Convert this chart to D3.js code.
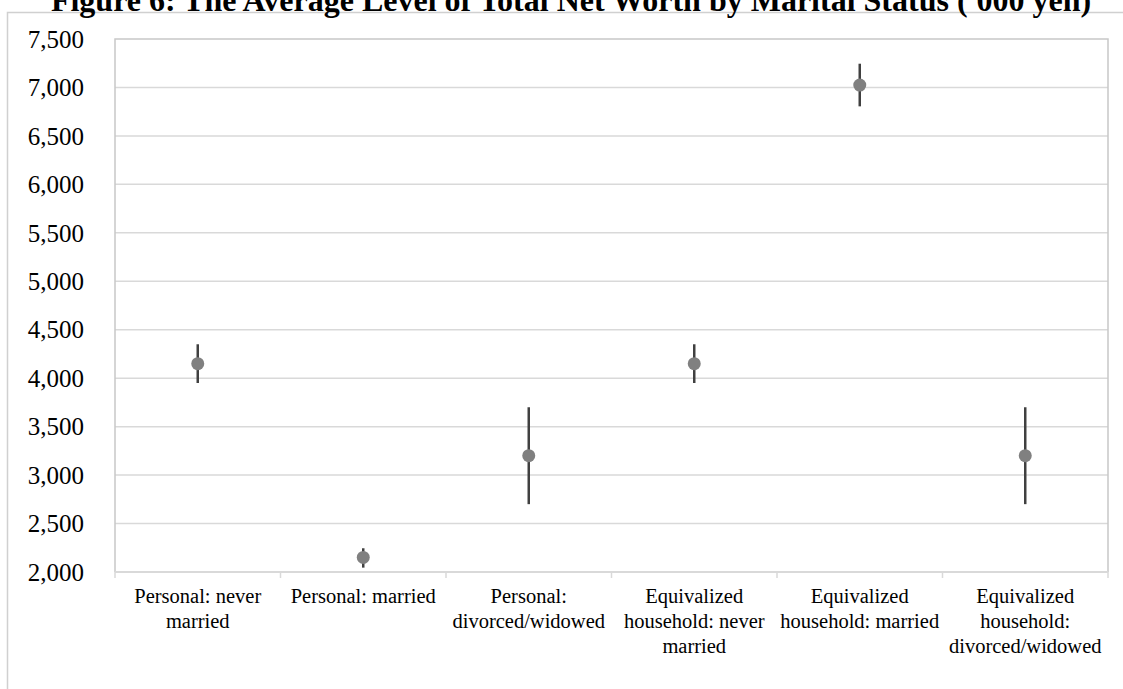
<!DOCTYPE html>
<html>
<head>
<meta charset="utf-8">
<script src="https://cdn.jsdelivr.net/npm/d3@7"></script>
<style>
  html, body { margin: 0; padding: 0; background: #fff; }
  svg { display: block; }
</style>
</head>
<body>
<svg id="chart" width="1123" height="689"></svg>
<script>
// ---- Data ----
const categories = [
  "Personal: never married",
  "Personal: married",
  "Personal: divorced/widowed",
  "Equivalized household: never married",
  "Equivalized household: married",
  "Equivalized household: divorced/widowed"
];
const labelLines = [
  ["Personal: never", "married"],
  ["Personal: married"],
  ["Personal:", "divorced/widowed"],
  ["Equivalized", "household: never", "married"],
  ["Equivalized", "household: married"],
  ["Equivalized", "household:", "divorced/widowed"]
];
const means = [4150, 2150, 3200, 4150, 7025, 3200];
const lowers = [3950, 2045, 2700, 3950, 6805, 2700];
const uppers = [4350, 2245, 3700, 4350, 7245, 3700];
const yTicks = [2000, 2500, 3000, 3500, 4000, 4500, 5000, 5500, 6000, 6500, 7000, 7500];
const title = "Figure 6: The Average Level of Total Net Worth by Marital Status ('000 yen)";

// ---- Layout ----
const svg = d3.select("#chart");
const plot = { left: 115, right: 1108, top: 39, bottom: 572 };
const serif = "'Liberation Serif', 'Times New Roman', serif";

// outer frame
svg.append("rect")
  .attr("x", 7.5).attr("y", 12.5)
  .attr("width", 1140).attr("height", 700)
  .attr("fill", "none").attr("stroke", "#d0d0d0").attr("stroke-width", 1.5);

// title (partially cut off at top as in reference)
svg.append("text")
  .attr("x", 571).attr("y", 11)
  .attr("text-anchor", "middle")
  .attr("font-family", serif).attr("font-weight", "bold")
  .attr("font-size", 32)
  .text(title);

const x = d3.scaleBand().domain(categories).range([plot.left, plot.right]).padding(0);
const y = d3.scaleLinear().domain([2000, 7500]).range([plot.bottom, plot.top]);

// gridlines
svg.append("g").selectAll("line").data(yTicks.filter(d => d > 2000 && d < 7500)).join("line")
  .attr("x1", plot.left).attr("x2", plot.right)
  .attr("y1", d => y(d)).attr("y2", d => y(d))
  .attr("stroke", "#d9d9d9").attr("stroke-width", 1.5);

// plot border (top/left/right)
svg.append("path")
  .attr("d", `M${plot.left},${plot.bottom} V${plot.top} H${plot.right} V${plot.bottom}`)
  .attr("fill", "none").attr("stroke", "#c8c8c8").attr("stroke-width", 1.5);

// x axis
const xAxisG = svg.append("g").attr("transform", `translate(0,${plot.bottom})`);
xAxisG.append("line")
  .attr("x1", plot.left).attr("x2", plot.right)
  .attr("stroke", "#d9d9d9").attr("stroke-width", 2);
const boundaries = categories.map(c => x(c)).concat([x(categories[categories.length - 1]) + x.bandwidth()]);
xAxisG.selectAll("line.tick").data(boundaries).join("line")
  .attr("class", "tick")
  .attr("x1", d => d).attr("x2", d => d)
  .attr("y1", 0).attr("y2", 6)
  .attr("stroke", "#d9d9d9").attr("stroke-width", 1.5);

// x labels
const xl = svg.append("g");
categories.forEach((c, i) => {
  const t = xl.append("text")
    .attr("text-anchor", "middle")
    .attr("font-family", serif).attr("font-size", 20.5)
    .attr("fill", "#000");
  labelLines[i].forEach((ln, j) => {
    t.append("tspan")
      .attr("x", x(c) + x.bandwidth() / 2)
      .attr("y", 603 + j * 25)
      .text(ln);
  });
});

// y labels
svg.append("g").selectAll("text").data(yTicks).join("text")
  .attr("x", 84).attr("y", d => y(d))
  .attr("dy", "0.35em")
  .attr("text-anchor", "end")
  .attr("font-family", serif).attr("font-size", 25)
  .attr("fill", "#000")
  .text(d => d3.format(",")(d));

// error bars
svg.append("g").selectAll("line").data(categories).join("line")
  .attr("x1", (c) => x(c) + x.bandwidth() / 2)
  .attr("x2", (c) => x(c) + x.bandwidth() / 2)
  .attr("y1", (c, i) => y(lowers[i]))
  .attr("y2", (c, i) => y(uppers[i]))
  .attr("stroke", "#404040").attr("stroke-width", 2.5);

// points
svg.append("g").selectAll("circle").data(categories).join("circle")
  .attr("cx", c => x(c) + x.bandwidth() / 2)
  .attr("cy", (c, i) => y(means[i]))
  .attr("r", 6.5)
  .attr("fill", "#808080");
</script>
</body>
</html>
